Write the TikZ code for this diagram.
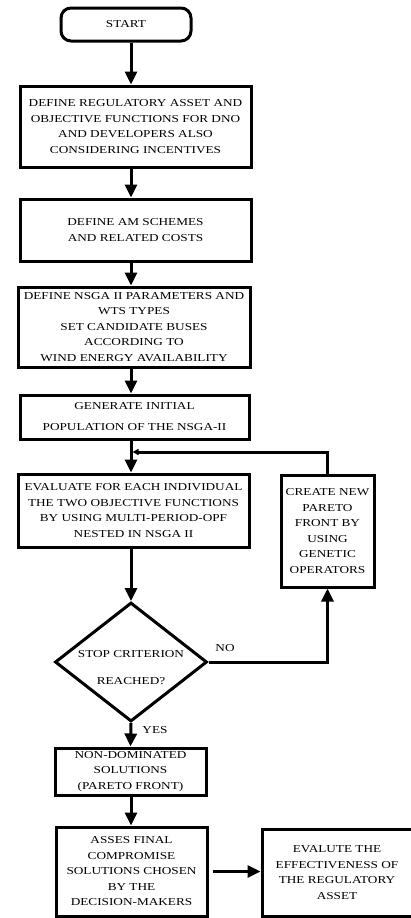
\documentclass[tikz,border=0pt]{standalone}
\usepackage{fontspec}
\setmainfont{Liberation Serif}[FakeStretch=1.25]
\usetikzlibrary{shapes.geometric,arrows.meta}

\begin{document}
\begin{tikzpicture}[x=1pt,y=-1pt,
  every node/.style={font=\fontsize{10.6pt}{15.5pt}\selectfont, align=center},
  box/.style={draw, line width=3pt, inner sep=0pt},
  startbox/.style={draw, line width=3pt, rounded corners=10pt, minimum width=130pt, minimum height=33pt},
  decision/.style={diamond, draw, line width=3pt, inner sep=0pt, minimum width=152pt, minimum height=119pt},
  arrow/.style={line width=3pt, -{Triangle[length=13pt,width=12pt]}},
  feedback/.style={line width=3pt, -{Triangle[length=6pt,width=6pt]}, shorten >=1.5pt}]
\useasboundingbox (0,0) rectangle (410,918);

% Start
\node[startbox] (start) at (126,24.5) {START};

% Main column
\node[box, minimum width=231pt, minimum height=81pt] (regasset) at (135.5,126.5) {DEFINE REGULATORY ASSET AND\\OBJECTIVE FUNCTIONS FOR DNO\\AND DEVELOPERS ALSO\\CONSIDERING INCENTIVES};
\node[box, minimum width=231pt, minimum height=62pt] (amscheme) at (135.5,230) {DEFINE AM SCHEMES\\AND RELATED COSTS};
\node[box, minimum width=232pt, minimum height=80pt] (nsgapar) at (134,327) {DEFINE NSGA II PARAMETERS AND\\WTS TYPES\\SET CANDIDATE BUSES\\ACCORDING TO\\WIND ENERGY AVAILABILITY};
\node[box, minimum width=229pt, minimum height=44pt] (initpop) at (134.5,417) {GENERATE INITIAL\\[5.5pt]POPULATION OF THE NSGA-II};
\node[box, minimum width=231pt, minimum height=73pt] (evalobj) at (133.5,510.5) {EVALUATE FOR EACH INDIVIDUAL\\THE TWO OBJECTIVE FUNCTIONS\\BY USING MULTI-PERIOD-OPF\\NESTED IN NSGA II};

% Loop box
\node[box, minimum width=93pt, minimum height=112pt] (newfront) at (327.5,531) {CREATE NEW\\PARETO\\FRONT BY\\USING\\GENETIC\\OPERATORS};

% Decision
\node[decision] (stopcrit) at (131,662) {};
\node (stoptext) at (131,668) {STOP CRITERION\\[11.5pt]REACHED?};

% Results
\node[box, minimum width=151pt, minimum height=47pt] (nondom) at (130.5,771.5) {NON-DOMINATED\\SOLUTIONS\\(PARETO FRONT)};
\node[box, minimum width=151pt, minimum height=89pt] (finalsol) at (131.5,871.5) {ASSES FINAL\\COMPROMISE\\SOLUTIONS CHOSEN\\BY THE\\DECISION-MAKERS};
\node[box, minimum width=150pt, minimum height=87pt] (effect) at (337,872.5) {EVALUTE THE\\EFFECTIVENESS OF\\THE REGULATORY\\ASSET};

% Arrows down the main column
\draw[arrow] (start.south -| stopcrit) -- (regasset.north -| stopcrit);
\draw[arrow] (regasset.south -| stopcrit) -- (amscheme.north -| stopcrit);
\draw[arrow] (amscheme.south -| stopcrit) -- (nsgapar.north -| stopcrit);
\draw[arrow] (nsgapar.south -| stopcrit) -- (initpop.north -| stopcrit);
\draw[arrow] (initpop.south -| stopcrit) -- (evalobj.north -| stopcrit);
\draw[arrow] (evalobj.south -| stopcrit) -- (stopcrit.north);

% Loop back
\coordinate (merge) at (131,452);
\draw[arrow] (stopcrit.east) -| (newfront.south);
\draw[feedback] (newfront.north) |- (merge);
\node (nolabel) at (225,648) {NO};

% Exit
\draw[arrow] (stopcrit.south) -- (nondom.north);
\node (yeslabel) at (155,730) {YES};
\draw[arrow] (nondom.south -| stopcrit) -- (finalsol.north -| stopcrit);
\draw[arrow, shorten <=4pt] (finalsol.east) -- (finalsol.east -| effect.west);

\end{tikzpicture}
\end{document}
